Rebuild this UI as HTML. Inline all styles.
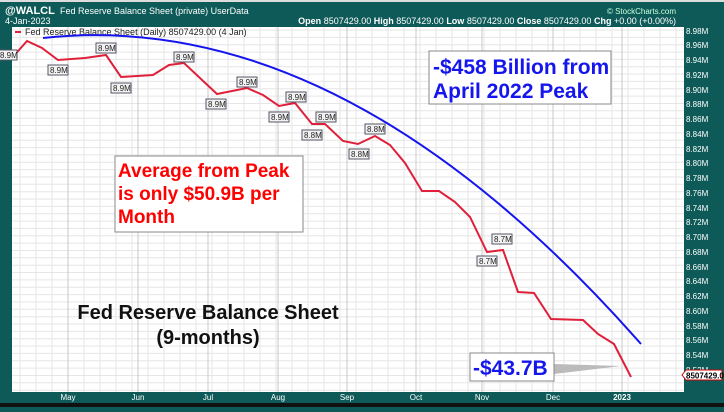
<!DOCTYPE html>
<html><head><meta charset="utf-8"><style>
body{margin:0;width:724px;height:407px;overflow:hidden;background:#0d5a58;font-family:"Liberation Sans",sans-serif}
</style></head><body>
<svg width="724" height="407" viewBox="0 0 724 407" xmlns="http://www.w3.org/2000/svg" font-family="Liberation Sans, sans-serif">
<rect x="0" y="0" width="724" height="407" fill="#0d5a58"/>
<rect x="0" y="403" width="724" height="4" fill="#111"/>
<rect x="0" y="0" width="724" height="2" fill="#ddd"/>
<rect x="12" y="27" width="672" height="365" fill="#fff"/>
<g id="grid"></g>
<text x="5" y="14" fill="#fff" font-size="11" font-weight="bold">@WALCL</text>
<text x="60" y="14" fill="#fff" font-size="9">Fed Reserve Balance Sheet (private)  UserData</text>
<text x="5" y="24" fill="#fff" font-size="9">4-Jan-2023</text>
<text x="676" y="14" fill="#cfd" font-size="8" text-anchor="end">© StockCharts.com</text>
<text x="676" y="24" fill="#fff" font-size="9" text-anchor="end"><tspan font-weight="bold">Open</tspan> 8507429.00 <tspan font-weight="bold">High</tspan> 8507429.00 <tspan font-weight="bold">Low</tspan> 8507429.00 <tspan font-weight="bold">Close</tspan> 8507429.00 <tspan font-weight="bold">Chg</tspan> +0.00 (+0.00%)</text>
<rect x="15" y="31" width="6" height="2" fill="#e0203a"/>
<text x="25" y="35" fill="#222" font-size="9">Fed Reserve Balance Sheet (Daily) 8507429.00 (4 Jan)</text>
<path d="M43,38 Q343,5.6 641,344" fill="none" stroke="#1515ee" stroke-width="2"/>
<polyline fill="none" stroke="#e0203a" stroke-width="2" points="12,58 27,41 42,48 58,60 85,58 106,55 121,77 153,75 169,65 184,63 217,94 247,88 263,95 279,106 295,103 312,124 325,124 343,141 358,144 375,136 390,145 405,163 422,191 439,191 455,202 470,217 487,252 503,250 518,292 534,293 551,319 583,320 598,334 614,344 631,377"/>
<g font-size="8" fill="#222">
<rect x="-2" y="50" width="19" height="10" fill="#f2f2f2" stroke="#556"/><text x="0" y="58">8.9M</text>
<rect x="48" y="65" width="20" height="10" fill="#f2f2f2" stroke="#556"/><text x="50" y="73">8.9M</text>
<rect x="96" y="43" width="20" height="10" fill="#f2f2f2" stroke="#556"/><text x="98" y="51">8.9M</text>
<rect x="111" y="83" width="20" height="10" fill="#f2f2f2" stroke="#556"/><text x="113" y="91">8.9M</text>
<rect x="174" y="52" width="20" height="10" fill="#f2f2f2" stroke="#556"/><text x="176" y="60">8.9M</text>
<rect x="206" y="99" width="20" height="10" fill="#f2f2f2" stroke="#556"/><text x="208" y="107">8.9M</text>
<rect x="237" y="77" width="20" height="10" fill="#f2f2f2" stroke="#556"/><text x="239" y="85">8.9M</text>
<rect x="269" y="112" width="20" height="10" fill="#f2f2f2" stroke="#556"/><text x="271" y="120">8.9M</text>
<rect x="286" y="92" width="20" height="10" fill="#f2f2f2" stroke="#556"/><text x="288" y="100">8.9M</text>
<rect x="302" y="130" width="20" height="10" fill="#f2f2f2" stroke="#556"/><text x="304" y="138">8.8M</text>
<rect x="316" y="112" width="20" height="10" fill="#f2f2f2" stroke="#556"/><text x="318" y="120">8.9M</text>
<rect x="349" y="149" width="20" height="10" fill="#f2f2f2" stroke="#556"/><text x="351" y="157">8.8M</text>
<rect x="365" y="124" width="20" height="10" fill="#f2f2f2" stroke="#556"/><text x="367" y="132">8.8M</text>
<rect x="477" y="256" width="20" height="10" fill="#f2f2f2" stroke="#556"/><text x="479" y="264">8.7M</text>
<rect x="492" y="234" width="20" height="10" fill="#f2f2f2" stroke="#556"/><text x="494" y="242">8.7M</text>
</g>
<rect x="429" y="51" width="182" height="53" fill="#fff" stroke="#888"/>
<text x="433" y="74" fill="#1515ee" font-size="21" font-weight="bold">-$458 Billion from</text>
<text x="433" y="98" fill="#1515ee" font-size="21" font-weight="bold">April 2022 Peak</text>
<rect x="115" y="156" width="188" height="76" fill="#fff" stroke="#888"/>
<text x="118" y="177" fill="#f00" font-size="19" font-weight="bold">Average from Peak</text>
<text x="118" y="200" fill="#f00" font-size="19" font-weight="bold">is only $50.9B per</text>
<text x="118" y="223" fill="#f00" font-size="19" font-weight="bold">Month</text>
<text x="208" y="319" fill="#111" font-size="20" font-weight="bold" text-anchor="middle">Fed Reserve Balance Sheet</text>
<text x="208" y="344" fill="#111" font-size="20" font-weight="bold" text-anchor="middle">(9-months)</text>
<polygon points="554,364 621,366 554,374" fill="#bbb"/>
<rect x="470" y="353" width="84" height="28" fill="#fff" stroke="#888"/>
<text x="473" y="375" fill="#1515ee" font-size="21" font-weight="bold">-$43.7B</text>
<g fill="#fff" font-size="8">
<text x="686" y="34">8.98M</text><text x="686" y="48">8.96M</text><text x="686" y="63">8.94M</text><text x="686" y="78">8.92M</text><text x="686" y="93">8.90M</text><text x="686" y="107">8.88M</text><text x="686" y="122">8.86M</text><text x="686" y="137">8.84M</text><text x="686" y="152">8.82M</text><text x="686" y="166">8.80M</text><text x="686" y="181">8.78M</text><text x="686" y="196">8.76M</text><text x="686" y="211">8.74M</text><text x="686" y="225">8.72M</text><text x="686" y="240">8.70M</text><text x="686" y="255">8.68M</text><text x="686" y="270">8.66M</text><text x="686" y="284">8.64M</text><text x="686" y="299">8.62M</text><text x="686" y="314">8.60M</text><text x="686" y="329">8.58M</text><text x="686" y="343">8.56M</text><text x="686" y="358">8.54M</text><text x="686" y="373">8.52M</text>
</g>
<polygon points="682,375 686,370 722,370 722,380 686,380" fill="#fff" stroke="#c00"/>
<text x="686" y="378.5" fill="#000" font-size="8" font-weight="bold">8507429.00</text>
<g fill="#fff" font-size="8">
<text x="68" y="400" text-anchor="middle">May</text><text x="138" y="400" text-anchor="middle">Jun</text><text x="208" y="400" text-anchor="middle">Jul</text><text x="278" y="400" text-anchor="middle">Aug</text><text x="347" y="400" text-anchor="middle">Sep</text><text x="416" y="400" text-anchor="middle">Oct</text><text x="482" y="400" text-anchor="middle">Nov</text><text x="553" y="400" text-anchor="middle">Dec</text><text x="622" y="400" text-anchor="middle" font-weight="bold">2023</text>
</g>
</svg>
<script>
var g=document.getElementById('grid'),s='';
for(var y=30;y<392;y+=7.35){s+='<line x1="12" x2="684" y1="'+y.toFixed(1)+'" y2="'+y.toFixed(1)+'" stroke="#e6e6e6"/>';}
for(var x=20;x<684;x+=16){s+='<line y1="27" y2="392" x1="'+x+'" x2="'+x+'" stroke="#e6e6e6"/>';}
[68,138,208,278,347,416,482,553,622].forEach(function(x){s+='<line y1="27" y2="392" x1="'+x+'" x2="'+x+'" stroke="#c8c8c8"/>';});
g.innerHTML=s;
</script>
</body></html>
